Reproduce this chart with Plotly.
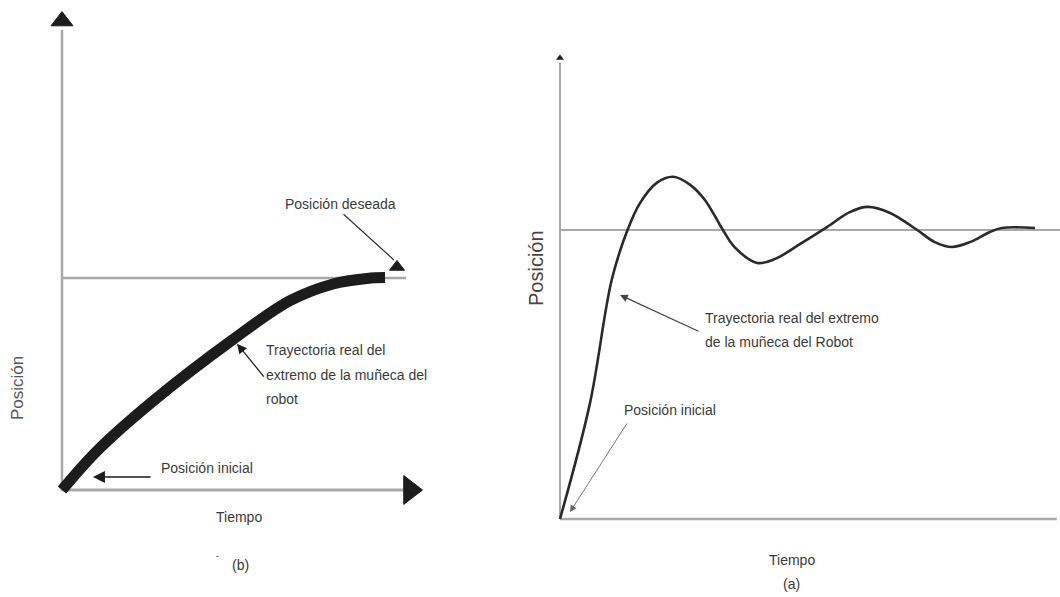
import plotly.graph_objects as go

# ---------------- data ----------------
# Panel (b): slow, overdamped approach (time units 0..10, position 0..1 = desired)
b_time = [0.0, 1.02, 2.65, 4.97, 6.63, 7.88, 8.87, 9.39]
b_pos = [0.0, 0.185, 0.42, 0.71, 0.893, 0.972, 0.998, 1.002]
b_desired = 1.0

# Panel (a): underdamped oscillation around the desired position
a_time = [0.0, 0.63, 1.088, 1.417, 1.684, 2.036, 2.385, 2.74, 3.05, 3.43, 3.68, 4.15,
          4.53, 5.05, 5.62, 6.1, 6.48, 6.95, 7.52, 7.89, 8.25, 8.63, 9.05, 9.3, 10.0]
a_pos = [0.0, 0.40, 0.827, 0.998, 1.093, 1.163, 1.184, 1.156, 1.104, 1.0, 0.94, 0.886,
         0.9, 0.951, 1.01, 1.062, 1.08, 1.059, 1.0, 0.958, 0.941, 0.958, 0.993, 1.007, 1.007]
a_desired = 1.0

# labels
b_texts = {
    "deseada": "Posición deseada",
    "tray": ["Trayectoria real del", "extremo de la muñeca del", "robot"],
    "inicial": "Posición inicial",
    "xlab": "Tiempo",
    "ylab": "Posición",
    "cap": "(b)",
}
a_texts = {
    "tray": ["Trayectoria real del extremo", "de la muñeca del Robot"],
    "inicial": "Posición inicial",
    "xlab": "Tiempo",
    "ylab": "Posición",
    "cap": "(a)",
}

# ---------------- geometry (pixel layout of the 1060x597 canvas) ----------------
W, H = 1060, 597
SPLIT = 0.49
# left panel mapping: t=0 at px 62, 34.4 px / unit ; p=0 at py 490, 212 px / unit
L_X0, L_SX, L_Y0, L_SY = 62, 34.4, 490, 212
# right panel mapping
R_X0, R_SX, R_Y0, R_SY = 560, 47.5, 519, 289

l_xr = [(0 - L_X0) / L_SX, (SPLIT * W - L_X0) / L_SX]
l_yr = [-(H - L_Y0) / L_SY, L_Y0 / L_SY]
r_xr = [(SPLIT * W - R_X0) / R_SX, (W - R_X0) / R_SX]
r_yr = [-(H - R_Y0) / R_SY, R_Y0 / R_SY]

FONT = "Liberation Sans, Arial, sans-serif"
TXT = "#3a3a3a"
AX = "#a9a9a9"
INK = "#1c1c1c"


def P(px, py):
    return px / W, 1 - py / H


fig = go.Figure()

# curves
fig.add_trace(go.Scatter(x=b_time, y=b_pos, mode="lines", line=dict(color=INK, width=11, shape="spline"),
                         xaxis="x", yaxis="y", cliponaxis=False, hoverinfo="skip"))
fig.add_trace(go.Scatter(x=a_time, y=a_pos, mode="lines", line=dict(color="#2a2a2a", width=2.6, shape="spline"),
                         xaxis="x2", yaxis="y2", cliponaxis=False, hoverinfo="skip"))

# axis / reference lines
shapes = []
def seg(xref, yref, x0, y0, x1, y1, w, c=AX):
    shapes.append(dict(type="line", xref=xref, yref=yref, x0=x0, y0=y0, x1=x1, y1=y1,
                       line=dict(color=c, width=w), layer="below"))

seg("x", "y", 0, -0.005, 0, 2.17, 2.5)
seg("x", "y", 0, 0, 9.97, 0, 3)
seg("x", "y", 0, b_desired, 10.0, b_desired, 2.5)
seg("x2", "y2", 0, 0, 0, 1.58, 2)
seg("x2", "y2", 0, 0, 10.46, 0, 2.5)
seg("x2", "y2", 0, a_desired, r_xr[1], a_desired, 2)

# arrowheads of the axes and the desired-position marker
fig.add_trace(go.Scatter(x=[0, 10.116, 9.738], y=[2.212, 0, 1.052], mode="markers",
                         marker=dict(symbol=["triangle-up", "triangle-right", "triangle-up"],
                                     size=[19, 25, 13], color=INK, opacity=1,
                                     line=dict(width=1, color=INK)),
                         xaxis="x", yaxis="y", cliponaxis=False, hoverinfo="skip"))
fig.add_trace(go.Scatter(x=[0], y=[1.595], mode="markers",
                         marker=dict(symbol="triangle-up", size=7, color=INK, opacity=1),
                         xaxis="x2", yaxis="y2", cliponaxis=False, hoverinfo="skip"))

ann = []
def arrow(xr, yr, x, y, ax, ay, head, size, width, color):
    ann.append(dict(xref=xr, yref=yr, axref=xr, ayref=yr, x=x, y=y, ax=ax, ay=ay, text="",
                    showarrow=True, arrowhead=head, arrowsize=size, arrowwidth=width,
                    arrowcolor=color))

arrow("x", "y", 0.9, 0.061, 2.62, 0.061, 2, 1.6, 1.5, INK)
arrow("x", "y", 5.087, 0.69, 5.901, 0.528, 2, 1.5, 1.3, INK)
arrow("x", "y", 9.65, 1.085, 8.14, 1.307, 0, 1, 1.2, "#333")
arrow("x2", "y2", 1.263, 0.775, 2.947, 0.647, 2, 1.3, 1.2, "#444")
arrow("x2", "y2", 0.21, 0.024, 1.43, 0.336, 2, 1.5, 0.9, "#666")

def label(text, px, py, anchor="center", size=14, angle=0, color=TXT):
    x, y = P(px, py)
    ann.append(dict(xref="paper", yref="paper", x=x, y=y, text=text, showarrow=False,
                    xanchor=anchor, yanchor="middle", textangle=angle,
                    font=dict(family=FONT, size=size, color=color)))

label(b_texts["deseada"], 340, 204)
for i, t in enumerate(b_texts["tray"]):
    label(t, 264, 350 + 24.5 * i, anchor="left")
label(b_texts["inicial"], 207, 468)
label(b_texts["xlab"], 239, 517)
label(b_texts["ylab"], 17, 388, size=17, angle=-90, color="#555")
label(b_texts["cap"], 240, 565)
label("-", 217, 556, size=9)

label(a_texts["ylab"], 536, 268, size=20, angle=-90, color="#444")
for i, t in enumerate(a_texts["tray"]):
    label(t, 703, 318 + 24 * i, anchor="left")
label(a_texts["inicial"], 622, 410, anchor="left")
label(a_texts["xlab"], 792, 560)
label(a_texts["cap"], 792, 584)

fig.update_layout(
    width=W, height=H, margin=dict(l=0, r=0, t=0, b=0),
    paper_bgcolor="white", plot_bgcolor="white", showlegend=False,
    xaxis=dict(domain=[0, SPLIT], range=l_xr, visible=False, fixedrange=True),
    yaxis=dict(domain=[0, 1], range=l_yr, visible=False, anchor="x", fixedrange=True),
    xaxis2=dict(domain=[SPLIT, 1], range=r_xr, visible=False, fixedrange=True),
    yaxis2=dict(domain=[0, 1], range=r_yr, visible=False, anchor="x2", fixedrange=True),
    shapes=shapes, annotations=ann,
)

fig.write_html("out.html", config={"displayModeBar": False},
               post_script="document.body.style.margin='0';")
